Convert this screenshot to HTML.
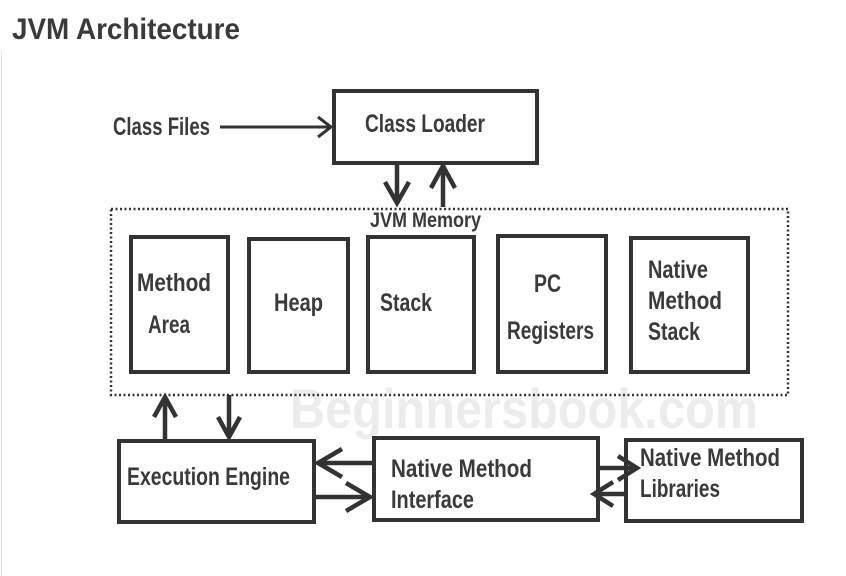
<!DOCTYPE html>
<html><head><meta charset="utf-8"><style>
html,body{margin:0;padding:0;background:#fff;width:846px;height:576px;overflow:hidden}
svg{display:block}
text{font-family:"Liberation Sans",sans-serif;font-weight:bold;fill:#3a3a3a}
</style></head><body>
<svg width="846" height="576" viewBox="0 0 846 576" xmlns="http://www.w3.org/2000/svg">
<line x1="1.5" y1="50" x2="1.5" y2="576" stroke="#e4e4e4" stroke-width="1"/>
<text x="12" y="39" font-size="30" textLength="228" lengthAdjust="spacingAndGlyphs" fill="#333">JVM Architecture</text>
<text x="290" y="428" font-size="56" textLength="468" lengthAdjust="spacingAndGlyphs" style="fill:#ececec">Beginnersbook.com</text>
<g fill="none" stroke="#333" stroke-width="4">
<rect x="334" y="91" width="203" height="72"/>
<rect x="131" y="237" width="97" height="135"/>
<rect x="249" y="239" width="99" height="133"/>
<rect x="368" y="237" width="106" height="135"/>
<rect x="498" y="236" width="108" height="136"/>
<rect x="631" y="238" width="117" height="134"/>
<rect x="119" y="441" width="195" height="81"/>
<rect x="374" y="438" width="224" height="82"/>
<rect x="626" y="440" width="176" height="81"/>
</g>
<rect x="111" y="209" width="677" height="186" fill="none" stroke="#333" stroke-width="2.5" stroke-dasharray="2 2.5"/>
<g fill="none" stroke="#333" stroke-width="4.5" stroke-linejoin="miter">
<line x1="220" y1="127" x2="331" y2="127" stroke-width="3"/>
<polyline points="318,117 331,127 318,137" stroke-width="3"/>
<line x1="397" y1="163" x2="397" y2="203"/>
<polyline points="385,182 397,203 409,182"/>
<line x1="443" y1="207" x2="443" y2="166"/>
<polyline points="431,188 443,166 455,188"/>
<line x1="165" y1="440" x2="165" y2="397"/>
<polyline points="154,417 165,397 176,417"/>
<line x1="229" y1="395" x2="229" y2="437"/>
<polyline points="218,417 229,437 240,417"/>
<line x1="373" y1="463" x2="318" y2="463"/>
<polyline points="342,449 318,463 342,477"/>
<line x1="316" y1="497" x2="370" y2="497"/>
<polyline points="346,483 370,497 346,511"/>
<line x1="600" y1="468" x2="637" y2="468"/>
<polyline points="618,456 637,468 618,480"/>
<line x1="625" y1="494" x2="594" y2="494"/>
<polyline points="613,482 594,494 613,506"/>
</g>
<g font-size="25">
<text x="113" y="135" textLength="97" lengthAdjust="spacingAndGlyphs">Class Files</text>
<text x="365" y="132" textLength="120" lengthAdjust="spacingAndGlyphs">Class Loader</text>
<text x="370" y="227" font-size="21" textLength="111" lengthAdjust="spacingAndGlyphs">JVM Memory</text>
<text x="137" y="291" textLength="74" lengthAdjust="spacingAndGlyphs">Method</text>
<text x="148" y="333" textLength="42" lengthAdjust="spacingAndGlyphs">Area</text>
<text x="274" y="311" textLength="49" lengthAdjust="spacingAndGlyphs">Heap</text>
<text x="380" y="311" textLength="52" lengthAdjust="spacingAndGlyphs">Stack</text>
<text x="534" y="292" textLength="27" lengthAdjust="spacingAndGlyphs">PC</text>
<text x="507" y="339" textLength="87" lengthAdjust="spacingAndGlyphs">Registers</text>
<text x="648" y="278" textLength="60" lengthAdjust="spacingAndGlyphs">Native</text>
<text x="648" y="309" textLength="74" lengthAdjust="spacingAndGlyphs">Method</text>
<text x="648" y="340" textLength="52" lengthAdjust="spacingAndGlyphs">Stack</text>
<text x="127" y="485" textLength="163" lengthAdjust="spacingAndGlyphs">Execution Engine</text>
<text x="391" y="477" textLength="141" lengthAdjust="spacingAndGlyphs">Native Method</text>
<text x="391" y="508" textLength="83" lengthAdjust="spacingAndGlyphs">Interface</text>
<text x="640" y="466" textLength="140" lengthAdjust="spacingAndGlyphs">Native Method</text>
<text x="640" y="497" textLength="80" lengthAdjust="spacingAndGlyphs">Libraries</text>
</g>
</svg>
</body></html>
